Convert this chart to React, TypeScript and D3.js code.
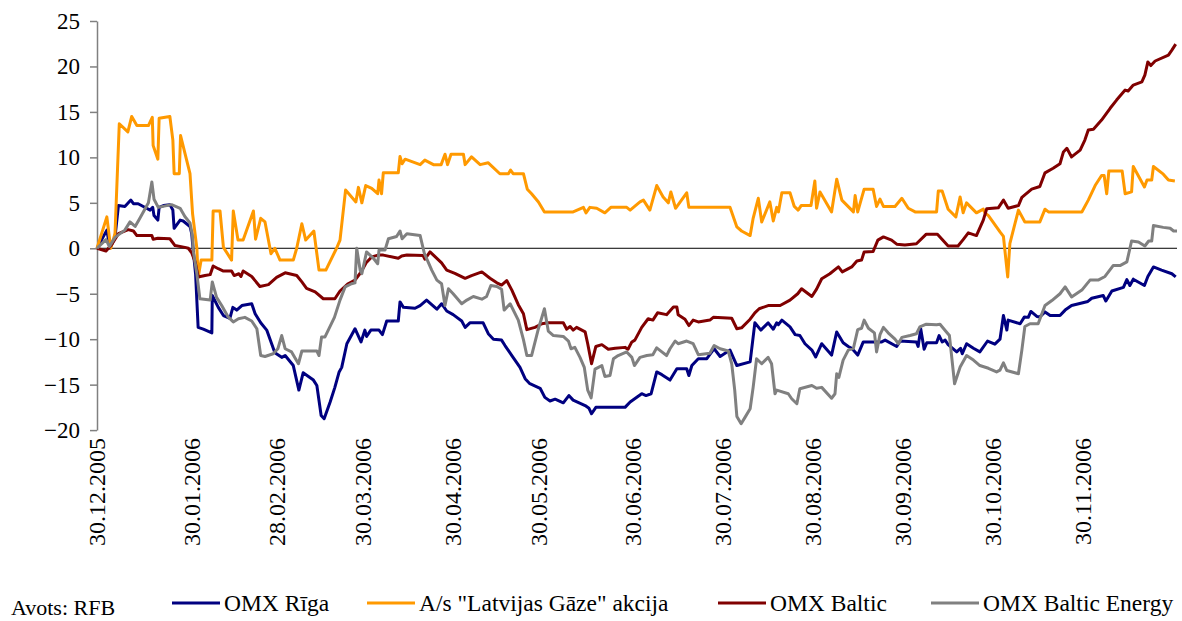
import { useEffect, useRef } from "react"
import * as d3 from "d3"

// trading-day index (0 = 30.12.2005) and % change
const rigaData: [number, number][] = [
  [0, 0], [2.3, 2.0], [3.0, 0], [4.2, 1.2], [5.0, 4.7], [6.5, 4.6], [7.9, 5.3], [8.5, 4.9], [9.6, 4.9],
  [10.8, 4.6], [12.4, 4.2], [13.0, 4.5], [13.3, 3.6], [14.2, 3.1], [14.5, 4.5], [15.5, 4.7], [17.0, 4.8],
  [17.7, 4.2], [18.0, 2.2], [19.4, 3.1], [20.1, 3.0], [21.7, 2.4], [22.1, 1.6], [22.4, 0], [23.0, -2.8],
  [23.6, -8.7], [24.8, -8.9], [26.8, -9.3], [26.9, -5.2], [28.3, -6.5], [29.5, -7.4], [31.0, -7.7],
  [31.7, -6.5], [32.6, -6.8], [33.8, -6.3], [36.1, -6.1], [36.9, -7.2], [38.2, -8.2], [39.6, -9.0],
  [41.5, -11.5], [43.1, -12.0], [43.9, -11.8], [45.8, -12.9], [47.1, -15.6], [48.1, -13.7], [50.5, -14.5],
  [51.3, -15.1], [52.3, -18.4], [53.0, -18.75], [54.4, -16.9], [55.5, -15.3], [56.5, -13.6], [57.1, -13.1],
  [58.3, -10.5], [60.2, -8.85], [61.6, -10.3], [62.5, -9.0], [62.9, -9.7], [63.9, -9.0], [65.8, -9.0],
  [66.6, -9.5], [67.6, -8.0], [70.3, -8.0], [70.7, -5.9], [71.5, -6.5], [74.2, -6.6], [75.4, -6.3],
  [76.9, -5.7], [79.3, -6.7], [80.4, -6.1], [81.6, -6.9], [83.1, -7.3], [85.1, -8.0], [85.9, -8.7],
  [87.0, -8.2], [90.1, -8.2], [91.3, -9.4], [92.5, -10.0], [94.4, -10.1], [95.2, -10.7], [96.8, -11.8],
  [98.7, -13.1], [99.9, -14.35], [101.0, -14.9], [103.4, -15.4], [104.5, -16.4], [105.7, -16.8],
  [106.9, -16.6], [108.8, -17.0], [110.1, -16.2], [111.1, -16.7], [113.9, -17.3], [114.8, -17.6],
  [115.4, -18.2], [116.4, -17.5], [123.2, -17.5], [124.4, -16.9], [127.1, -16.0], [128.1, -16.2],
  [129.3, -16.0], [130.6, -13.6], [131.8, -13.9], [133.7, -14.5], [135.3, -13.25], [137.6, -13.25],
  [138.1, -14.0], [138.8, -12.9], [140.3, -12.15], [142.3, -12.15], [144.0, -11.05], [145.4, -11.9],
  [147.7, -11.2], [149.3, -12.9], [152.4, -12.5], [153.5, -8.2], [154.9, -9.0], [156.6, -8.2],
  [157.8, -8.9], [158.6, -8.2], [159.0, -8.4], [159.8, -7.9], [161.7, -8.65], [162.9, -9.5], [164.0, -9.6],
  [165.2, -10.5], [166.8, -11.2], [167.7, -11.95], [169.1, -10.5], [171.4, -11.75], [172.6, -9.2],
  [174.1, -10.4], [175.3, -10.8], [176.1, -11.0], [177.5, -11.75], [178.8, -10.3], [183.1, -10.3],
  [183.9, -10.1], [186.6, -10.8], [187.4, -10.2], [191.2, -10.3], [191.6, -10.8], [192.2, -8.85],
  [193.0, -11.1], [193.6, -10.4], [195.9, -10.4], [196.5, -9.6], [197.2, -10.3], [197.9, -10.1],
  [198.6, -10.6], [200.6, -11.4], [201.5, -11.0], [201.9, -11.6], [202.9, -10.5], [204.5, -11.0],
  [206.0, -11.4], [207.8, -10.2], [209.5, -10.55], [210.7, -10.0], [211.5, -7.4], [212.3, -9.0],
  [212.6, -7.9], [215.4, -8.3], [216.4, -7.55], [217.3, -7.6], [217.9, -6.95], [219.3, -7.5],
  [220.0, -7.55], [221.2, -7.0], [222.4, -7.4], [224.7, -7.4], [225.9, -6.8], [227.4, -6.3],
  [231.2, -5.85], [232.1, -5.5], [234.8, -5.2], [235.4, -5.8], [236.8, -4.7], [239.5, -4.3],
  [240.3, -3.45], [241.0, -4.1], [241.8, -3.4], [244.4, -4.1], [245.2, -3.1], [246.5, -2.05],
  [248.4, -2.4], [250.8, -2.8], [251.7, -3.15],
]

const gazeData: [number, number][] = [
  [0, 0], [2.3, 3.45], [3.2, 0], [4.2, 1.6], [5.2, 13.7], [7.2, 12.8], [8.1, 14.5], [9.3, 13.5],
  [12.0, 13.5], [12.9, 14.4], [13.1, 11.3], [14.2, 9.8], [14.5, 14.3], [17.0, 14.5], [17.7, 11.9],
  [18.0, 8.2], [19.2, 8.2], [19.5, 12.4], [21.7, 8.2], [22.3, 3.8], [23.3, 0], [23.6, -3.2], [24.3, -1.3],
  [26.8, -1.3], [27.1, 4.1], [28.7, 4.1], [29.5, 0.1], [31.4, -1.3], [31.8, 4.1], [32.9, 0.9], [34.1, 0.9],
  [36.5, 4.1], [37.0, 1.0], [38.2, 3.3], [39.2, 2.9], [40.6, -0.6], [41.5, 0], [42.7, -1.3], [45.8, -1.3],
  [46.6, 0], [47.8, 2.7], [48.7, 0.9], [50.6, 1.9], [51.8, -2.4], [53.4, -2.4], [55.9, 0], [56.7, 0.9],
  [58.0, 6.4], [60.4, 5.1], [61.0, 6.7], [61.8, 5.0], [62.7, 6.9], [64.1, 6.6], [65.5, 6.0], [65.8, 7.5],
  [66.4, 6.0], [66.8, 8.3], [70.3, 8.3], [70.7, 10.1], [71.2, 9.3], [71.9, 9.8], [75.4, 9.2], [76.5, 9.7],
  [78.5, 9.2], [80.3, 9.2], [81.2, 10.35], [81.8, 9.2], [82.6, 10.35], [85.5, 10.35], [85.9, 9.2],
  [87.4, 10.06], [89.4, 9.2], [91.3, 9.4], [94.0, 8.2], [96.0, 8.2], [96.5, 8.6], [97.1, 8.2], [99.5, 8.2],
  [100.4, 6.5], [101.4, 6.0], [103.0, 5.1], [104.4, 4.0], [111.1, 4.0], [113.5, 4.5], [114.1, 3.9],
  [115.0, 4.5], [116.6, 4.4], [118.5, 3.9], [119.9, 4.5], [123.6, 4.5], [124.4, 4.2], [126.7, 5.1],
  [127.5, 5.3], [129.0, 4.2], [130.6, 6.9], [132.1, 5.65], [133.3, 5.0], [133.9, 6.2], [135.0, 4.4],
  [137.6, 6.1], [138.1, 4.5], [147.7, 4.5], [149.3, 2.35], [150.4, 1.9], [152.4, 1.4], [153.1, 3.3],
  [154.3, 5.5], [155.1, 2.9], [157.0, 5.1], [157.8, 3.0], [158.6, 4.5], [159.0, 4.0], [159.8, 6.1],
  [161.7, 6.1], [162.7, 4.6], [163.6, 4.2], [164.3, 4.7], [166.6, 4.7], [167.5, 7.4], [167.9, 4.4],
  [168.7, 6.2], [171.4, 4.0], [172.6, 7.6], [173.8, 5.3], [176.5, 4.0], [176.9, 5.8], [177.5, 4.0],
  [179.0, 6.5], [181.1, 6.5], [181.9, 4.6], [182.7, 5.4], [183.5, 4.6], [186.2, 4.6], [187.8, 5.5],
  [189.3, 4.4], [190.9, 4.0], [195.9, 4.0], [196.3, 6.3], [197.2, 6.3], [198.6, 4.3], [200.4, 3.45],
  [201.4, 5.65], [202.1, 3.9], [202.9, 5.0], [205.2, 3.9], [206.8, 4.3], [207.2, 3.9], [208.0, 3.6],
  [210.7, 1.8], [211.5, 1.3], [212.5, -3.15], [213.0, 0.5], [215.0, 4.2], [216.5, 2.9], [220.0, 2.9],
  [221.2, 4.3], [222.0, 4.0], [229.8, 4.0], [231.3, 5.3], [232.9, 6.9], [234.4, 8.0], [235.0, 8.0],
  [235.6, 6.0], [236.1, 8.5], [239.2, 8.5], [239.9, 6.0], [241.4, 6.2], [241.8, 9.0], [244.4, 6.75],
  [245.0, 7.5], [246.1, 7.5], [246.5, 9.0], [248.8, 8.15], [250.0, 7.5], [251.5, 7.4],
]

const balticData: [number, number][] = [
  [0, 0], [2.1, -0.3], [3.4, 0.4], [5.0, 1.6], [7.3, 2.05], [8.5, 1.9], [9.3, 1.4], [12.8, 1.4], [13.1, 1.0],
  [14.2, 1.1], [17.0, 1.05], [18.2, 0.3], [20.5, 0.1], [21.3, 0], [22.1, -0.5], [22.9, -1.5], [23.6, -3.15],
  [25.2, -3.0], [26.4, -2.9], [27.1, -1.95], [28.3, -2.25], [29.5, -2.5], [31.4, -2.5], [32.0, -3.0],
  [33.1, -2.8], [33.6, -3.1], [34.1, -2.5], [36.1, -3.1], [38.0, -4.2], [40.0, -4.0], [41.9, -3.2],
  [43.9, -2.7], [46.6, -3.0], [47.8, -3.7], [48.9, -4.4], [50.9, -4.8], [52.8, -5.55], [55.5, -5.55],
  [56.7, -4.7], [58.6, -3.9], [60.2, -3.5], [61.4, -2.75], [62.1, -2.2], [62.8, -1.6], [64.1, -0.95],
  [65.6, -0.75], [66.8, -0.75], [70.3, -1.1], [71.1, -0.85], [72.3, -0.75], [76.1, -0.8], [76.5, -1.2],
  [77.7, -0.4], [79.3, -1.1], [80.4, -1.6], [81.6, -2.4], [83.5, -2.75], [85.9, -3.3], [87.4, -3.0],
  [89.8, -2.6], [91.7, -3.3], [93.3, -3.8], [94.4, -4.05], [95.6, -3.55], [96.8, -4.6], [98.3, -6.2],
  [99.5, -7.2], [100.3, -8.95], [102.2, -8.7], [103.8, -8.3], [105.3, -8.2], [108.8, -8.2], [109.6, -8.9],
  [110.4, -8.6], [111.1, -9.0], [111.9, -8.7], [113.9, -9.2], [114.5, -10.5], [115.4, -12.7],
  [116.4, -10.8], [117.8, -10.6], [119.3, -11.1], [120.9, -11.0], [123.2, -10.9], [123.9, -11.1],
  [124.8, -10.3], [125.5, -10.1], [127.1, -8.7], [128.6, -7.75], [129.7, -7.9], [130.8, -7.1],
  [132.9, -7.3], [134.5, -6.45], [135.3, -6.45], [135.6, -7.3], [137.2, -7.8], [138.1, -8.5],
  [139.1, -7.9], [140.3, -8.1], [143.0, -7.9], [143.8, -7.6], [148.1, -7.7], [149.3, -8.85],
  [150.4, -8.75], [152.4, -7.8], [153.5, -7.1], [154.5, -6.65], [156.6, -6.3], [159.4, -6.3],
  [161.7, -5.7], [163.5, -5.0], [164.4, -4.45], [166.8, -5.3], [167.9, -4.5], [169.1, -3.35],
  [171.0, -2.8], [173.0, -2.05], [173.9, -2.6], [176.1, -2.05], [177.3, -1.4], [178.4, -1.3],
  [179.0, -0.4], [181.1, -0.35], [182.2, 0.9], [183.5, 1.25], [185.4, 0.9], [186.6, 0.45], [188.5, 0.35],
  [191.2, 0.5], [193.5, 1.55], [196.1, 1.55], [198.6, 0.25], [200.9, 0.25], [202.1, 0.95], [203.3, 1.7],
  [205.2, 1.4], [206.8, 3.1], [207.6, 4.35], [210.3, 4.45], [211.5, 5.3], [212.6, 4.4], [215.0, 4.7],
  [215.8, 5.6], [218.1, 6.5], [220.0, 6.8], [221.2, 8.3], [223.1, 8.8], [224.7, 9.3], [225.5, 10.6],
  [226.3, 11.0], [227.4, 10.05], [229.4, 10.8], [230.5, 11.9], [231.3, 13.0], [232.5, 13.1],
  [234.4, 14.1], [236.4, 15.4], [237.9, 16.3], [239.9, 17.4], [240.6, 17.3], [241.8, 17.95],
  [243.8, 18.3], [244.5, 19.05], [245.2, 20.5], [245.9, 20.1], [246.9, 20.6], [250.0, 21.25],
  [250.8, 21.8], [251.7, 22.45],
]

const energyData: [number, number][] = [
  [0, 0], [2.1, 0.95], [2.9, 0.2], [4.2, 1.2], [6.5, 2.0], [7.7, 2.9], [8.9, 2.4], [10.0, 3.3], [12.0, 5.0],
  [12.8, 7.3], [13.3, 5.4], [14.3, 4.5], [17.4, 4.8], [19.4, 4.4], [20.5, 3.5], [21.7, 2.8], [22.3, 1.3],
  [22.5, -0.4], [23.3, -2.8], [24.0, -5.55], [26.4, -5.7], [26.9, -3.7], [27.9, -5.4], [29.1, -6.3],
  [30.6, -7.55], [31.8, -8.1], [33.0, -7.75], [34.5, -7.6], [36.1, -8.0], [37.3, -8.85], [38.2, -11.8],
  [39.2, -11.9], [41.1, -11.6], [42.2, -11.05], [43.1, -9.6], [43.9, -11.05], [45.4, -11.4],
  [47.0, -12.7], [47.8, -11.3], [51.3, -11.3], [51.8, -11.8], [52.4, -9.75], [53.2, -9.75], [55.4, -7.6],
  [56.7, -5.7], [57.9, -4.25], [59.4, -3.9], [60.2, -3.8], [60.6, 0], [61.4, -2.4], [61.8, -2.8],
  [62.9, -0.4], [64.5, -1.1], [65.5, -1.7], [65.8, -0.2], [67.2, -0.2], [68.0, 1.05], [69.9, 1.3],
  [70.7, 1.9], [71.2, 1.05], [72.3, 1.6], [75.4, 1.4], [76.4, -0.6], [76.9, -1.1], [78.1, -2.4],
  [79.3, -3.5], [80.4, -3.9], [81.2, -6.3], [82.0, -4.45], [83.1, -5.0], [85.1, -6.1], [86.3, -5.7],
  [87.8, -5.3], [89.8, -5.6], [90.9, -5.3], [91.9, -4.1], [93.3, -4.2], [94.4, -4.5], [95.0, -6.8],
  [96.4, -6.1], [98.3, -7.9], [99.5, -10.05], [100.3, -11.8], [101.4, -11.8], [103.0, -8.85],
  [104.4, -6.65], [105.3, -9.1], [106.5, -9.6], [108.8, -9.7], [110.0, -10.2], [110.6, -11.05],
  [111.5, -10.9], [112.7, -12.0], [113.7, -13.1], [114.5, -15.6], [115.3, -16.45], [116.2, -13.3],
  [117.8, -12.9], [118.5, -14.1], [119.7, -14.0], [120.5, -12.15], [121.6, -11.8], [123.6, -11.4],
  [124.8, -12.0], [125.4, -12.9], [126.7, -12.0], [128.3, -11.8], [129.7, -11.7], [130.6, -10.95],
  [131.8, -11.4], [132.9, -11.8], [133.7, -11.05], [134.9, -10.2], [135.6, -10.5], [137.6, -10.2],
  [139.1, -10.5], [140.3, -11.7], [143.0, -11.55], [144.0, -10.7], [145.4, -11.05], [147.3, -11.3],
  [148.1, -12.7], [148.8, -15.6], [149.3, -18.5], [150.3, -19.3], [151.2, -18.6], [152.4, -17.65],
  [153.1, -15.3], [153.9, -12.15], [155.1, -12.7], [156.6, -12.0], [157.4, -12.7], [158.2, -16.0],
  [158.6, -15.6], [161.3, -16.0], [162.1, -16.55], [163.3, -17.1], [164.0, -15.45], [166.8, -15.1],
  [167.9, -15.4], [169.1, -15.3], [171.4, -16.5], [172.2, -16.0], [172.6, -13.8], [173.1, -14.2],
  [174.1, -12.3], [175.3, -11.2], [176.5, -11.0], [177.5, -8.95], [178.4, -8.8], [179.0, -7.9],
  [180.0, -8.8], [181.4, -9.3], [181.9, -11.4], [182.7, -9.5], [183.5, -8.7], [184.6, -9.3],
  [186.2, -10.0], [187.0, -10.5], [187.8, -9.8], [189.7, -9.6], [191.2, -9.4], [192.0, -8.65],
  [193.5, -8.35], [195.9, -8.4], [196.7, -8.35], [198.2, -9.2], [198.9, -9.6], [200.1, -14.9],
  [201.4, -13.05], [202.9, -11.8], [204.5, -12.3], [206.0, -12.9], [208.0, -13.2], [209.9, -13.6],
  [210.7, -13.4], [211.5, -12.6], [212.3, -13.45], [215.0, -13.8], [215.8, -11.2], [216.5, -8.6],
  [217.7, -8.3], [219.6, -8.3], [221.2, -6.3], [222.8, -5.75], [224.7, -5.0], [225.9, -4.25],
  [227.4, -5.35], [229.8, -4.6], [231.7, -3.5], [233.6, -3.5], [235.2, -3.1], [237.1, -1.9],
  [238.7, -1.9], [240.3, -1.5], [241.4, 0.8], [243.0, 0.7], [244.5, 0.25], [245.4, 0.8], [246.1, 0.8],
  [246.5, 2.5], [248.8, 2.3], [250.4, 2.2], [251.2, 1.9], [252.0, 1.9],
]

const seriesNames = ["OMX Rīga", "A/s \"Latvijas Gāze\" akcija", "OMX Baltic", "OMX Baltic Energy"]
const seriesColors = ["#000080", "#FF9900", "#800000", "#808080"]
const seriesData = [rigaData, gazeData, balticData, energyData]

const tickDays = [0, 22, 42, 62, 83, 103, 125, 146, 167, 188, 209, 230]
const tickLabels = [
  "30.12.2005", "30.01.2006", "28.02.2006", "30.03.2006", "30.04.2006", "30.05.2006",
  "30.06.2006", "30.07.2006", "30.08.2006", "30.09.2006", "30.10.2006", "30.11.2006",
]
const yTicks = [-20, -15, -10, -5, 0, 5, 10, 15, 20, 25]
const legendX = [172, 367, 718, 931]
const sourceText = "Avots: RFB"

const FONT = "Liberation Serif, Times New Roman, serif"

export default function App() {
  const svgRef = useRef<SVGSVGElement>(null)
  const width = 1182
  const height = 621

  useEffect(() => {
    if (!svgRef.current) return
    const svg = d3.select(svgRef.current)
    svg.selectAll("*").remove()

    const x = d3.scaleLinear().domain([0, 252]).range([97, 1177])
    const y = d3.scaleLinear().domain([-20, 25]).range([430.1, 21])

    // y axis
    const yAxis = svg
      .append("g")
      .attr("transform", "translate(97,0)")
      .call(d3.axisLeft(y).tickValues(yTicks).tickSize(7).tickPadding(10).tickSizeOuter(0))
      .attr("font-family", FONT)
      .attr("font-size", 23)
    yAxis.select(".domain").attr("stroke", "#808080").attr("stroke-width", 1.5)
    yAxis.selectAll(".tick line").attr("stroke", "#808080").attr("stroke-width", 1.5)
    yAxis.selectAll("text").attr("fill", "#000")

    // zero line
    svg
      .append("line")
      .attr("x1", x(0))
      .attr("x2", x(252))
      .attr("y1", y(0))
      .attr("y2", y(0))
      .attr("stroke", "#000")
      .attr("stroke-width", 1)

    // x labels, rotated
    svg
      .append("g")
      .attr("font-family", FONT)
      .attr("font-size", 24)
      .selectAll("text")
      .data(tickDays)
      .enter()
      .append("text")
      .attr("transform", (d) => `translate(${x(d)},438) rotate(-90)`)
      .attr("text-anchor", "end")
      .attr("dy", "0.35em")
      .text((d, i) => tickLabels[i])

    // series
    const line = d3
      .line<[number, number]>()
      .x((d) => x(d[0]))
      .y((d) => y(d[1]))

    seriesData.forEach((data, i) => {
      svg
        .append("path")
        .datum(data)
        .attr("d", line)
        .attr("fill", "none")
        .attr("stroke", seriesColors[i])
        .attr("stroke-width", 3)
        .attr("stroke-linejoin", "round")
    })

    // legend
    const legend = svg.append("g").attr("font-family", FONT).attr("font-size", 23.5)
    seriesNames.forEach((name, i) => {
      const g = legend.append("g").attr("transform", `translate(${legendX[i]},603)`)
      g.append("line")
        .attr("x1", 0)
        .attr("x2", 48)
        .attr("stroke", seriesColors[i])
        .attr("stroke-width", 3)
      g.append("text").attr("x", 52).attr("dy", "0.35em").text(name)
    })

    svg
      .append("text")
      .attr("x", 11)
      .attr("y", 615)
      .attr("font-family", FONT)
      .attr("font-size", 22)
      .text(sourceText)
  }, [])

  return (
    <svg
      ref={svgRef}
      width={width}
      height={height}
      style={{ position: "absolute", left: 0, top: 0, background: "#fff" }}
    ></svg>
  )
}
